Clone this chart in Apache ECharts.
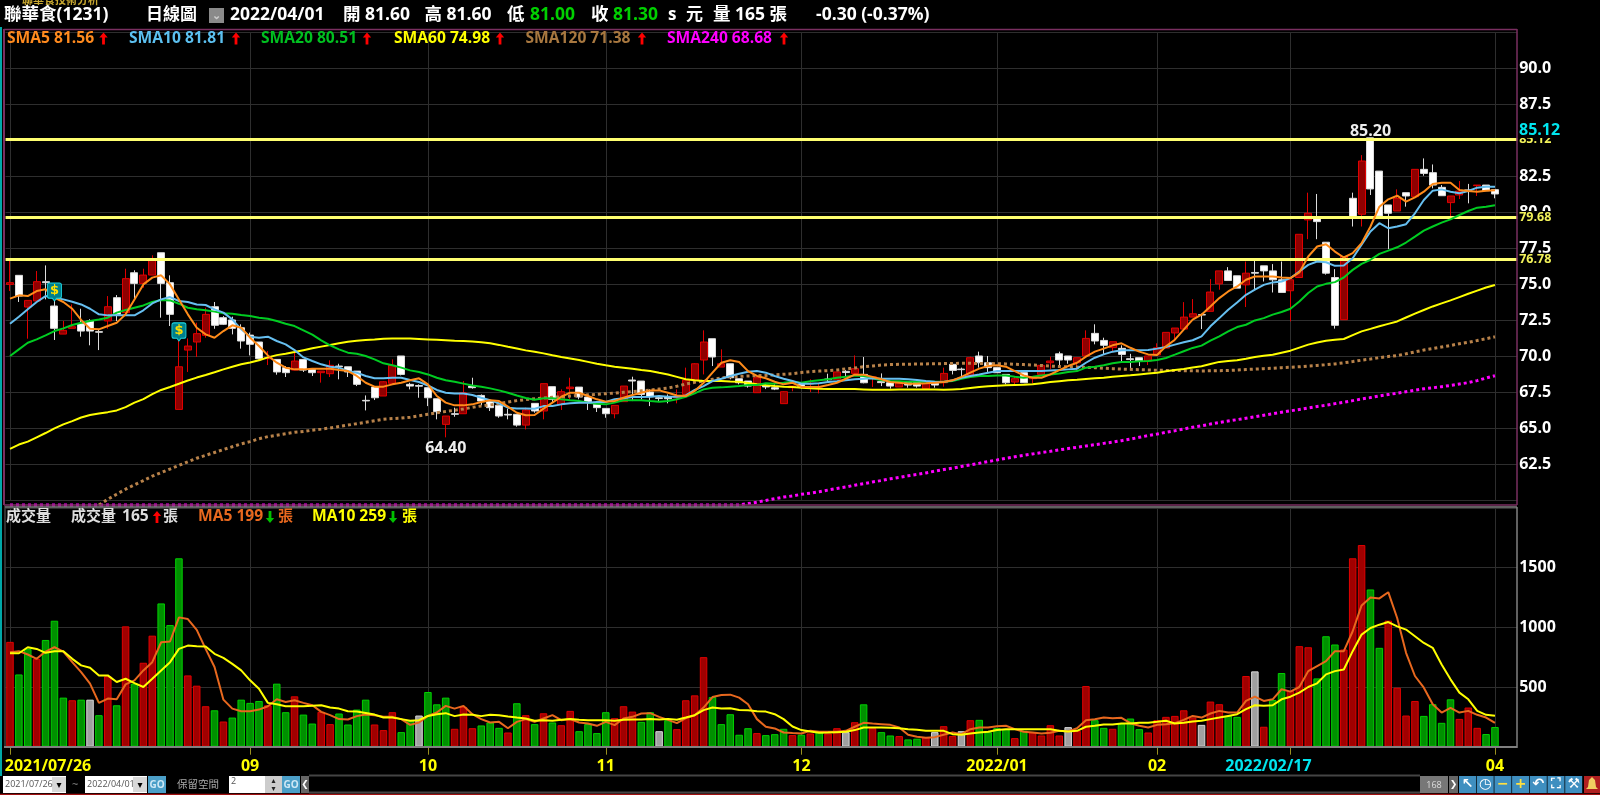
<!DOCTYPE html>
<html><head><meta charset="utf-8">
<style>html,body{margin:0;padding:0;background:#000;overflow:hidden}#c{width:1600px;height:795px}</style>
<script src="https://cdn.jsdelivr.net/npm/echarts@6/dist/echarts.min.js"></script>
</head><body><div id="c"></div>
<script>
// [open, close, low, high]
const candles = [
[75.02,75.14,74.56,76.76],[75.65,74.21,73.8,75.65],[73.45,73.91,71.25,73.91],[73.87,75.21,73.87,75.95],[75.21,75.14,73.98,76.34],
[73.52,71.97,71.16,73.87],[71.57,71.83,71.57,72.48],[71.97,72.08,71.97,73.63],[72.29,71.78,71.39,73.33],[72.48,71.78,70.79,72.6],
[71.74,71.7,70.46,71.9],[72.48,73.47,71.94,74.21],[74.1,72.94,72.48,74.28],[73.06,75.42,73.06,76.11],[75.83,75.09,74.05,76.0],
[75.09,75.67,74.79,76.11],[75.67,76.71,75.67,77.04],[77.22,75.09,72.71,77.22],[75.14,72.94,72.13,75.65],[66.34,69.3,66.34,71.09],
[70.46,70.74,68.94,71.27],[71.02,71.6,69.98,72.36],[71.48,72.94,71.32,73.4],[73.47,72.18,71.94,73.8],[72.71,72.25,72.2,72.82],
[72.55,71.97,71.55,72.78],[72.01,71.09,70.56,72.25],[71.5,70.86,70.09,71.67],[71.02,69.86,69.8,71.02],[69.86,69.93,69.42,70.4],
[69.81,68.94,68.75,69.81],[69.24,68.89,68.59,69.35],[69.07,69.7,69.07,70.4],[69.81,69.07,68.94,69.81],[69.12,68.89,68.66,69.12],
[68.89,69.0,68.2,69.0],[68.82,69.4,68.59,69.75],[69.35,69.3,68.43,69.51],[69.3,68.94,68.59,69.3],[69.0,68.08,67.96,69.0],
[66.97,66.93,66.27,67.31],[67.89,67.15,66.99,67.89],[67.27,68.26,67.27,68.3],[68.15,69.4,68.15,69.81],[70.05,68.77,68.7,70.05],
[68.08,67.96,67.73,68.19],[68.0,67.95,67.15,68.08],[67.85,67.15,66.57,67.85],[67.08,66.18,65.65,67.08],[65.3,65.88,64.4,65.88],
[66.04,66.0,65.83,66.46],[66.04,67.5,66.04,68.31],[67.96,67.85,67.78,68.54],[67.31,66.92,66.62,67.38],[66.92,66.46,66.23,66.92],
[66.62,65.88,65.76,66.62],[66.0,65.95,65.65,66.39],[66.0,65.25,65.14,66.0],[65.25,66.3,64.95,66.46],[66.76,66.23,66.11,66.76],
[66.23,68.13,65.65,68.13],[67.92,67.04,66.85,67.92],[66.69,67.57,66.3,67.73],[67.78,67.89,67.04,68.54],[67.89,67.2,67.04,67.89],
[67.2,66.88,66.3,67.2],[66.69,66.46,66.16,66.69],[66.41,66.04,65.76,66.41],[66.04,66.62,65.72,66.62],[66.88,67.96,66.88,67.96],
[68.38,68.31,66.92,68.61],[68.31,67.38,67.04,68.31],[67.55,67.22,66.57,67.73],[67.15,67.1,66.92,67.31],[67.22,67.08,66.76,67.38],
[67.15,67.2,66.76,67.73],[67.38,68.38,67.38,69.24],[68.38,69.51,68.38,69.55],[69.77,71.02,68.77,71.83],[71.25,69.98,69.35,71.25],
[69.28,69.51,69.28,70.51],[69.51,68.54,68.43,69.51],[68.47,68.19,68.08,68.47],[68.31,67.96,67.85,68.31],[67.5,68.54,67.5,68.6],
[68.0,67.9,67.75,68.1],[67.85,67.75,67.68,68.08],[66.74,67.57,66.74,67.6],[67.85,67.96,67.6,67.96],[68.08,67.95,67.8,68.1],
[68.1,68.15,67.55,68.43],[67.9,67.92,67.45,68.2],[68.45,68.4,68.2,68.82],[68.43,68.94,68.43,68.94],[68.98,68.9,68.6,69.07],
[68.84,69.17,68.77,70.09],[68.77,68.19,68.15,69.98],[68.55,68.6,67.9,68.6],[68.27,68.2,67.96,68.84],[68.19,67.96,67.78,68.19],
[67.9,68.19,67.9,68.19],[68.2,68.03,67.85,68.2],[68.2,67.96,67.85,68.2],[67.78,68.13,67.78,68.13],[68.15,68.03,67.85,68.15],
[68.19,68.84,67.92,69.24],[69.47,69.05,68.77,69.47],[69.14,69.1,68.54,69.24],[68.7,69.93,68.7,70.0],[70.05,69.58,69.24,70.35],
[69.58,69.24,68.94,70.05],[69.24,68.89,68.89,69.24],[68.77,68.19,68.08,68.77],[68.24,68.47,68.08,68.61],[68.89,68.19,68.19,68.89],
[68.47,68.55,68.15,68.55],[68.77,69.4,68.77,69.4],[69.58,69.7,69.12,70.0],[70.2,69.77,69.4,70.35],[70.05,69.77,69.51,70.05],
[69.58,69.93,69.0,69.93],[70.05,71.27,70.05,71.83],[71.62,71.09,70.86,72.25],[71.13,70.79,70.12,71.32],[70.63,71.04,70.32,71.04],
[70.58,70.16,69.7,70.79],[69.86,69.8,69.05,70.2],[69.93,69.7,69.35,69.93],[69.7,70.05,69.42,70.05],[70.12,70.62,70.12,70.93],
[70.6,71.69,70.6,71.69],[71.65,71.99,71.07,71.99],[71.92,72.75,71.92,73.79],[72.75,72.98,72.75,74.0],[72.92,72.9,71.92,72.99],
[73.15,74.49,73.15,75.39],[75.06,75.96,74.65,75.96],[75.96,75.29,75.29,76.22],[75.62,74.76,74.76,75.62],[74.99,75.8,73.45,76.61],
[75.85,75.8,74.65,76.68],[76.31,75.96,75.22,76.31],[75.96,75.34,74.46,76.43],[75.34,74.46,74.46,76.61],[74.58,75.34,72.45,75.34],
[75.5,78.5,75.5,78.5],[79.5,79.96,78.16,81.39],[79.61,79.38,78.16,81.3],[77.95,75.8,75.7,77.95],[75.5,72.18,71.95,76.08],
[72.57,76.96,72.57,76.96],[81.0,79.73,79.04,81.39],[79.89,83.59,79.04,84.0],[85.2,81.65,81.23,85.2],[82.89,79.77,79.77,82.89],
[80.54,79.96,77.47,80.54],[80.12,81.0,80.12,81.62],[81.39,81.16,80.42,81.39],[81.11,83.01,81.11,83.01],[83.01,82.73,82.57,83.77],
[82.78,81.92,81.69,83.35],[81.76,81.18,81.18,81.92],[80.7,81.16,79.73,81.16],[81.23,81.5,80.95,82.2],[81.58,81.55,80.65,82.0],
[81.88,81.92,81.16,81.92],[81.92,81.53,81.53,81.92],[81.6,81.3,81.0,81.6]];

const sma5 = [74.03,74.26,74.21,74.56,74.68,74.1,73.8,73.33,72.55,71.94,71.9,72.13,72.36,72.94,73.98,75.02,75.49,75.65,75.02,73.98,
72.94,72.01,71.55,71.32,71.78,72.18,72.01,71.32,70.74,70.09,69.58,69.24,69.12,69.12,69.17,69.17,69.17,69.07,69.0,68.66,
68.19,67.92,67.92,68.08,68.19,68.36,68.5,68.08,67.27,66.81,66.62,66.62,66.69,66.85,66.97,66.92,66.53,66.11,65.93,65.95,
66.39,66.81,67.22,67.5,67.5,67.27,67.04,66.88,66.92,67.15,67.34,67.5,67.66,67.66,67.5,67.31,67.27,67.62,68.19,68.89,
69.58,69.75,69.63,69.0,68.66,68.5,68.26,68.08,68.19,67.9,67.9,67.9,68.03,68.19,68.47,68.75,68.75,68.6,68.43,68.24,
68.19,68.13,68.13,68.15,68.19,68.24,68.36,68.6,68.89,69.17,69.35,69.4,69.31,69.0,68.7,68.54,68.54,68.77,69.07,69.35,
69.58,70.0,70.35,70.56,70.79,70.93,70.62,70.35,70.16,70.12,70.72,71.18,71.88,72.57,72.92,73.49,74.07,74.53,74.88,75.34,
75.57,75.57,75.57,75.5,75.46,75.85,76.96,77.65,77.81,77.3,76.89,77.19,77.88,79.04,80.42,80.93,81.18,80.77,81.07,81.46,
81.99,82.08,82.08,81.58,81.51,81.46,81.53,81.56];
const sma10 = [72.29,72.78,73.29,73.8,74.21,74.1,73.98,73.82,73.63,73.33,72.94,72.87,72.87,72.87,72.87,73.22,73.7,73.98,74.14,73.87,
73.8,73.63,73.59,73.29,73.06,72.59,71.9,71.39,71.32,71.39,71.09,70.86,70.46,69.95,69.7,69.47,69.3,69.24,69.0,68.89,
68.66,68.5,68.5,68.54,68.54,68.38,68.24,68.0,67.69,67.5,67.45,67.45,67.34,67.15,66.97,66.76,66.46,66.41,66.41,66.39,
66.57,66.57,66.69,66.76,66.81,66.81,66.85,66.85,67.04,67.11,67.2,67.2,67.22,67.27,67.22,67.22,67.31,67.69,67.96,68.31,
68.47,68.66,68.82,68.96,69.0,68.89,68.66,68.47,68.31,68.13,68.13,68.15,68.24,68.29,68.36,68.43,68.47,68.5,68.47,68.47,
68.47,68.43,68.38,68.31,68.26,68.24,68.36,68.54,68.66,68.77,68.89,69.0,69.0,69.0,69.0,69.0,69.0,69.05,69.07,69.12,
69.17,69.58,69.93,70.16,70.35,70.44,70.44,70.44,70.46,70.56,70.68,70.84,71.0,71.14,71.41,72.11,72.68,73.26,73.77,74.3,
74.65,74.99,75.16,75.22,75.46,75.92,76.38,76.61,76.56,76.31,76.33,76.84,77.77,78.69,79.27,78.92,79.04,79.2,79.96,80.88,
81.53,81.62,81.46,81.35,81.51,81.74,81.81,81.81];
const sma20 = [70.05,70.51,70.97,71.2,71.48,71.78,71.97,72.2,72.36,72.48,72.59,72.71,73.06,73.24,73.4,73.56,73.8,73.94,73.91,73.68,
73.4,73.29,73.22,73.13,73.01,72.99,72.89,72.82,72.71,72.64,72.48,72.29,72.13,71.83,71.53,71.13,70.79,70.51,70.28,70.21,
70.05,69.81,69.54,69.4,69.24,69.05,68.94,68.77,68.54,68.36,68.26,68.13,68.0,67.92,67.8,67.66,67.5,67.31,67.13,67.01,
67.11,67.11,67.04,66.97,66.92,66.81,66.74,66.69,66.81,66.97,66.97,66.97,66.92,66.88,66.92,67.04,67.22,67.45,67.73,67.85,
67.87,67.92,67.96,68.03,68.03,68.15,68.13,68.19,68.26,68.19,68.29,68.36,68.43,68.54,68.6,68.7,68.66,68.5,68.36,68.31,
68.29,68.26,68.26,68.26,68.26,68.26,68.31,68.47,68.59,68.66,68.66,68.7,68.7,68.6,68.54,68.6,68.7,68.77,68.84,68.94,
69.0,69.24,69.31,69.4,69.54,69.63,69.63,69.68,69.7,69.77,69.91,70.14,70.38,70.61,70.77,71.11,71.41,71.76,72.06,72.22,
72.52,72.68,72.92,73.1,73.33,73.84,74.42,74.88,75.06,75.18,75.5,76.03,76.45,76.73,77.14,77.37,77.6,77.93,78.34,78.76,
79.04,79.31,79.54,79.84,80.12,80.35,80.42,80.51];
const sma60 = [63.6,63.9,64.1,64.4,64.7,65.02,65.3,65.53,65.78,65.95,66.05,66.15,66.27,66.5,66.81,67.05,67.4,67.69,67.9,68.12,
68.35,68.55,68.73,68.92,69.12,69.3,69.47,69.6,69.75,69.95,70.11,70.2,70.32,70.45,70.58,70.7,70.81,70.93,71.04,71.1,
71.16,71.2,71.25,71.27,71.27,71.26,71.23,71.2,71.17,71.14,71.11,71.09,71.06,71.0,70.93,70.82,70.69,70.57,70.44,70.34,
70.23,70.1,69.98,69.88,69.77,69.64,69.51,69.4,69.31,69.24,69.17,69.08,69.0,68.88,68.77,68.6,68.43,68.36,68.31,68.31,
68.31,68.28,68.26,68.17,68.08,68.02,67.96,67.92,67.89,67.85,67.81,67.78,67.76,67.75,67.75,67.75,67.73,67.71,67.71,67.71,
67.72,67.73,67.73,67.73,67.72,67.71,67.73,67.75,67.82,67.89,67.94,67.99,68.01,68.03,68.05,68.08,68.16,68.24,68.3,68.36,
68.4,68.45,68.5,68.54,68.6,68.66,68.71,68.77,68.83,68.89,68.99,69.07,69.15,69.25,69.34,69.49,69.64,69.7,69.75,69.86,
69.98,70.06,70.14,70.28,70.42,70.63,70.84,70.98,71.11,71.17,71.23,71.5,71.76,71.93,72.11,72.28,72.45,72.72,72.99,73.24,
73.49,73.7,73.91,74.14,74.37,74.59,74.81,74.98];
const sma120 = [null,null,null,null,null,null,null,null,null,null,59.7,60.1,60.45,60.8,61.1,61.4,61.7,61.95,62.2,62.45,
62.7,62.95,63.15,63.35,63.55,63.75,63.95,64.1,64.3,64.45,64.55,64.65,64.75,64.8,64.9,64.97,65.05,65.15,65.25,65.35,
65.45,65.55,65.65,65.7,65.74,65.8,65.9,66.0,66.1,66.2,66.28,66.37,66.48,66.58,66.65,66.75,66.85,66.95,67.02,67.08,
67.13,67.18,67.22,67.27,67.31,67.35,67.38,67.43,67.48,67.53,67.57,67.63,67.68,67.75,67.82,67.95,68.1,68.22,68.32,68.43,
68.52,68.6,68.63,68.66,68.68,68.7,68.74,68.78,68.82,68.9,68.96,69.0,69.03,69.08,69.15,69.22,69.3,69.36,69.42,69.45,
69.47,69.48,69.49,69.5,69.51,69.52,69.53,69.54,69.54,69.53,69.53,69.51,69.5,69.47,69.45,69.42,69.39,69.35,69.32,69.3,
69.28,69.26,69.24,69.2,69.17,69.14,69.12,69.1,69.08,69.06,69.05,69.04,69.03,69.02,69.01,69.02,69.03,69.04,69.07,69.11,
69.14,69.17,69.2,69.24,69.27,69.3,69.35,69.39,69.44,69.5,69.58,69.66,69.76,69.84,69.93,70.01,70.08,70.2,70.33,70.46,
70.56,70.67,70.78,70.9,71.0,71.12,71.25,71.38];
const sma240 = [59.7,59.7,59.7,59.7,59.7,59.7,59.7,59.7,59.7,59.7,59.7,59.7,59.7,59.7,59.7,59.7,59.7,59.7,59.7,59.7,
59.7,59.7,59.7,59.7,59.7,59.7,59.7,59.7,59.7,59.7,59.7,59.7,59.7,59.7,59.7,59.7,59.7,59.7,59.7,59.7,
59.7,59.7,59.7,59.7,59.7,59.7,59.7,59.7,59.7,59.7,59.7,59.7,59.7,59.7,59.7,59.7,59.7,59.7,59.7,59.7,
59.7,59.7,59.7,59.7,59.7,59.7,59.7,59.7,59.7,59.7,59.7,59.7,59.7,59.7,59.7,59.7,59.7,59.7,59.7,59.7,
59.7,59.7,59.7,59.8,59.9,60.02,60.14,60.25,60.33,60.45,60.52,60.62,60.74,60.85,60.95,61.08,61.18,61.3,61.4,61.52,
61.62,61.73,61.82,61.93,62.05,62.16,62.26,62.38,62.49,62.6,62.72,62.83,62.95,63.05,63.15,63.25,63.34,63.43,63.53,63.62,
63.71,63.8,63.89,63.98,64.07,64.17,64.28,64.4,64.52,64.63,64.75,64.86,64.98,65.1,65.2,65.32,65.43,65.53,65.63,65.73,
65.83,65.94,66.04,66.14,66.24,66.34,66.44,66.54,66.63,66.74,66.84,66.95,67.06,67.16,67.27,67.37,67.47,67.57,67.67,67.77,
67.84,67.92,68.0,68.1,68.2,68.34,68.52,68.68];

const volume = [878,605,820,736,894,1055,411,389,394,394,264,590,347,1008,528,703,930,1200,1019,1578,
597,511,339,305,211,244,394,367,383,347,528,289,422,269,194,292,189,278,186,311,
394,186,139,289,122,222,261,458,355,411,150,333,155,178,203,158,119,364,264,189,
280,203,180,300,130,189,114,289,239,339,294,208,289,130,222,147,389,430,750,416,
189,272,100,155,114,97,105,150,97,100,111,128,111,155,122,205,355,155,122,94,
89,61,67,78,122,172,89,130,222,225,122,155,147,72,133,119,94,180,94,164,
133,508,222,158,150,194,236,147,119,222,250,258,305,245,183,378,356,258,250,592,
631,167,392,617,467,842,833,572,925,856,814,1578,1689,1317,828,1056,494,261,383,258,
356,200,397,233,328,158,106,165];
const volDir = "rggrgggrgw"+"grgrgrrggg"+"rrrgrggggr"+"ggrggrrggg"+"grrrggwggg"+"rrrgggrgrg"+"rgrrggggrr"+"rggwgrrrrg"
             + "ggggrgggrg"+"rgrrwrgrgg"+"rggrwrrwrg"+"gggrgrrrrw"+"rrggrgggrr"+"rrrrwrrggr"+"wrggrrrggg"+"rrrggrrrrg"+"gggrrrgg";
const volMa5 = [792,800,772,736,797,833,797,708,625,528,367,403,397,522,556,639,708,875,881,1083,
1069,978,819,667,394,319,297,297,311,339,397,375,389,367,347,292,264,231,228,256,
269,264,250,250,231,183,203,258,286,342,319,342,272,231,203,208,155,208,231,208,
236,264,222,231,203,194,175,208,181,236,250,278,281,250,225,197,239,264,328,416,
433,436,411,355,231,167,153,119,114,111,133,125,125,125,133,167,200,194,189,183,
161,100,83,75,80,100,119,105,147,161,161,172,175,147,125,119,111,117,133,128,
155,222,230,244,239,242,197,175,161,183,189,197,225,258,244,278,300,286,286,383,
419,383,397,481,461,500,633,675,717,800,800,967,1183,1250,1242,1294,1078,786,592,494,
356,286,325,286,300,267,244,199];
const volMa10 = [783,783,833,819,786,800,800,736,681,661,597,597,542,569,533,500,569,639,708,819,
847,842,839,778,744,694,639,556,486,367,356,339,339,339,342,347,328,319,297,294,
283,269,244,244,231,217,222,258,272,281,256,269,267,256,267,264,253,244,236,217,
222,217,225,231,225,222,222,222,217,225,228,228,233,228,233,225,244,264,306,328,
319,322,308,306,297,294,272,231,169,139,128,117,119,122,125,139,161,161,161,158,
155,147,142,133,133,133,105,100,111,119,125,139,147,147,147,147,147,147,133,128,
133,167,175,186,186,194,194,200,200,208,217,194,200,211,217,231,244,258,272,314,
347,342,347,397,419,453,500,531,606,633,647,800,939,994,1022,1044,1008,981,925,869,
828,689,564,453,397,300,267,259];

const tickIndexes = [0,27,47,67,89,111,129,144,167];
const tickLabels = ["2021/07/26","09","10","11","12","2022/01","02","2022/02/17","04"];
const levels = [85.12,79.68,76.78];
const priceExtremes = [{i:49,v:64.4,text:"64.40"},{i:153,v:85.2,text:"85.20"}];
const dollarMarks = [{i:5,v:73.87},{i:19,v:71.1}];
const alertMarks = [{i:48,c:"#8a5a30"},{i:108,c:"#b0a020"},{i:148,c:"#10a020"},{i:158,c:"#5a9ac0"},{i:163,c:"#d07020"}];
const slotCount = 170;
const categories = []; for (let i=0;i<slotCount;i++) categories.push(String(i));

const FF = "'Open Sans','Noto Sans CJK TC',sans-serif";
const g = [];
const T = (x,y,s,fill,size,extra)=>g.push({type:'text',z:100,silent:true,style:Object.assign({x,y,text:s,fill,font:`${(extra&&extra.w)||'bold'} ${size}px ${FF}`,textVerticalAlign:'middle',textAlign:'left'},extra||{})});
const R = (x,y,w,h,fill,stroke)=>g.push({type:'rect',z:90,silent:true,shape:{x,y,width:w,height:h},style:{fill:fill||'none',stroke:stroke||'none',lineWidth:1}});
const L = (x1,y1,x2,y2,c,w)=>g.push({type:'line',z:90,silent:true,shape:{x1,y1,x2,y2},style:{stroke:c,lineWidth:w||1}});
const A = (x,y,c,up)=>{const s=up?1:-1;g.push({type:'polygon',z:100,silent:true,shape:{points:[[x,y-6*s],[x+4.2,y-1*s],[x+1.4,y-1*s],[x+1.4,y+6*s],[x-1.4,y+6*s],[x-1.4,y-1*s],[x-4.2,y-1*s]]},style:{fill:c}});};

// frame
L(1,27,1,776,'#00a8a8',2); L(4,29,4,505,'#7a2f60',2);
L(4,29.5,1517,29.5,'#7a2f60',1.5); L(1517,29,1517,505,'#7a2f60',1.5); L(4,505,1517,505,'#7a2f60',1.5);
L(5,507,1517,507,'#808080',1.5); L(5,506,5,747,'#606060',1); L(1517,507,1517,748,'#808080',1.5); L(4,747,1517,747,'#808080',2);
L(0,794.5,1600,794.5,'#a01010',1.5);
// header
T(22,1,'聯華食技術分析','#c8a830',11);
T(4,15.5,'聯華食(1231)','#fff',17.5);
T(146,15.5,'日線圖','#fff',17);
R(209,8,15,15,'#8a8a8a'); T(216.5,15.5,'⌄','#ccc',11,{textAlign:'center'});
T(230,15.5,'2022/04/01','#fff',17.5);
T(343,15.5,'開 81.60','#fff',17.5); T(424.5,15.5,'高 81.60','#fff',17.5);
T(507,15.5,'低','#fff',17.5); T(530,15.5,'81.00','#00d000',17.5);
T(591,15.5,'收','#fff',17.5); T(613,15.5,'81.30','#00d000',17.5);
T(668,15.5,'s','#fff',17); T(686,15.5,'元','#fff',17); T(713,15.5,'量 165 張','#fff',17.5);
T(816,15.5,'-0.30 (-0.37%)','#fff',17.5);
// MA legend
const legend=[['SMA5 81.56','#ff8a1e',7,103.5],['SMA10 81.81','#5cc0f0',129,236],['SMA20 80.51','#00c020',261,367],['SMA60 74.98','#ffff00',394,500],['SMA120 71.38','#a87840',525.5,642],['SMA240 68.68','#ff00ff',667,784]];
legend.forEach(l=>{T(l[2],38.5,l[0],l[1],15.6); A(l[3],38.5,'#ff0000',true);});
// volume legend
T(6,517,'成交量','#ddd',15); T(71,517,'成交量','#ddd',15); T(122,517,'165','#ddd',15.6);
A(157,517,'#ff0000',true); T(163,517,'張','#ddd',15);
T(198,517,'MA5 199','#e8681e',15.6); A(270,517,'#00c000',false); T(278,517,'張','#e8681e',15);
T(312,517,'MA10 259','#ffff00',15.6); A(393,517,'#00c000',false); T(402,517,'張','#ffff00',15);
// cyan last-level label
T(1519,130,'85.12','#00e5ee',16,{backgroundColor:'#000'});
// toolbar
const small={w:'normal'};
R(3,776,63,17,'#fff'); T(5,784.5,'2021/07/26','#555',9,small); R(52,777,14,15,'#d8d8d8'); T(59,785,'▾','#000',10,{textAlign:'center',font:'10px DejaVu Sans'});
T(72,785,'~','#888',11,small);
R(85,776,62,17,'#fff'); T(87,784.5,'2022/04/01','#555',9,small); R(133,777,14,15,'#d8d8d8'); T(140,785,'▾','#000',10,{textAlign:'center',font:'10px DejaVu Sans'});
R(148,776,18,17,'#4b9fc8'); T(157,785,'GO','#cfe8f5',10,{textAlign:'center'});
T(177,785,'保留空間','#aaa',10.5,small);
R(229,776,36,17,'#fff'); T(231,781,'2','#555',9,small); R(265,776,17,17,'#ccc');
T(273.5,781,'▴','#222',8,{textAlign:'center',font:'8px DejaVu Sans'}); T(273.5,789,'▾','#222',8,{textAlign:'center',font:'8px DejaVu Sans'});
R(282,776,18,17,'#4b9fc8'); T(291,785,'GO','#cfe8f5',10,{textAlign:'center'});
R(301,776,8,17,'#666'); T(305,785,'❮','#fff',9,{textAlign:'center',font:'9px DejaVu Sans'});
L(309,775.5,1420,775.5,'#444',2); L(309,792.5,1420,792.5,'#444',2);
R(1420,776,28,17,'#777'); T(1434,785,'168','#ddd',9,{textAlign:'center',w:'normal'});
R(1449,776,9,17,'#666'); T(1453.5,785,'❯','#fff',9,{textAlign:'center',font:'9px DejaVu Sans'});
const icons=[['↖','#fff'],['◷','#fff'],['−','#ffe040'],['+','#ffe040'],['↶','#fff'],['⛶','#fff'],['⚒','#fff']];
icons.forEach((c,i)=>{const x=1459+i*17.7;R(x,776,17,17,'#3f8fc0');T(x+8.5,784.5,c[0],c[1],14,{textAlign:'center',font:'bold 14px DejaVu Sans'});});
R(1584,776,16,17,'#b02020');
g.push({type:'polygon',z:100,silent:true,shape:{points:[[1592,777],[1595,780],[1596,787],[1598,789],[1586,789],[1588,787],[1589,780]]},style:{fill:'#f0d060'}});

const grid0={left:5.55,right:82.8,top:32.7,height:468};
const grid1={left:5.55,right:82.8,top:507.9,height:238.8};
const tickFn=i=>tickIndexes.includes(+i);
const gridColor='#2e2e2e';
const lineS=(name,data,color,w,extra)=>Object.assign({name,type:'line',data,symbol:'none',showSymbol:false,clip:false,connectNulls:false,lineStyle:{color,width:w},z:5,silent:true},extra||{});

const dollarPath='path://M3 0H17Q20 0 20 3V20Q20 23 17 23H13L10 27L7 23H3Q0 23 0 20V3Q0 0 3 0Z';

const option={
  backgroundColor:'#000',animation:false,graphic:{elements:g},
  grid:[grid0,grid1],
  xAxis:[
   {type:'category',gridIndex:0,data:categories,boundaryGap:true,axisLine:{show:false},axisTick:{show:false},axisLabel:{show:false},
    splitLine:{show:true,alignWithLabel:true,interval:tickFn,lineStyle:{color:gridColor,width:1}}},
   {type:'category',gridIndex:1,data:categories,boundaryGap:true,axisLine:{show:false},
    axisTick:{show:true,alignWithLabel:true,interval:tickFn,length:8,lineStyle:{color:'#9a9020',width:1}},
    splitLine:{show:true,alignWithLabel:true,interval:tickFn,lineStyle:{color:gridColor,width:1}},
    axisLabel:{show:true,interval:tickFn,hideOverlap:false,margin:12,showMinLabel:true,showMaxLabel:true,
      formatter:(v)=>{const k=tickIndexes.indexOf(+v);if(k<0)return '';const t=tickLabels[k];
        if(k===0)return `{first|${t}}`; if(k===7)return `{cy|${t}}`; return `{y|${t}}`;},
      rich:{y:{color:'#ffff00',fontFamily:FF,fontWeight:'bold',fontSize:16},
            first:{color:'#ffff00',fontFamily:FF,fontWeight:'bold',fontSize:16,padding:[0,0,0,76]},
            cy:{color:'#00e5ee',fontFamily:FF,fontWeight:'bold',fontSize:16,padding:[0,44,0,0]}}}}
  ],
  yAxis:[
   {type:'value',gridIndex:0,position:'right',min:60,max:92.5,interval:2.5,axisLine:{show:false},axisTick:{show:false},
    splitLine:{show:true,lineStyle:{color:gridColor,width:1.2}},
    axisLabel:{color:'#fff',fontFamily:FF,fontWeight:'bold',fontSize:16,margin:2,align:'left',
      formatter:v=>(v===60||v===92.5)?'':v.toFixed(1)}},
   {type:'value',gridIndex:1,position:'right',min:0,max:2000,interval:500,axisLine:{show:false},axisTick:{show:false},
    splitLine:{show:true,lineStyle:{color:gridColor,width:1.2}},
    axisLabel:{color:'#fff',fontFamily:FF,fontWeight:'bold',fontSize:16,margin:2,align:'left',
      formatter:v=>(v===0||v===2000)?'':String(v)}}
  ],
  series:[
   {name:'K',type:'candlestick',xAxisIndex:0,yAxisIndex:0,data:candles,barWidth:7.5,z:3,silent:true,clip:false,
    itemStyle:{color:'#8f0000',color0:'#ffffff',borderColor:'#e00000',borderColor0:'#dcdcdc',borderWidth:1},
    markLine:{silent:true,symbol:'none',animation:false,z:4,
      lineStyle:{color:'#ffff70',width:3,type:'solid'},
      label:{show:true,position:'end',distance:2,color:'#f2f25a',fontFamily:FF,fontWeight:'bold',fontSize:12.5,backgroundColor:'#000',formatter:p=>p.value.toFixed(2)},
      data:levels.map(v=>({yAxis:v}))},
    markPoint:{silent:true,animation:false,data:priceExtremes.map((p,k)=>({coord:[p.i,p.v],symbol:'circle',symbolSize:1,itemStyle:{color:'transparent'},
      label:{show:true,formatter:p.text,color:'#eee',fontFamily:FF,fontWeight:'bold',fontSize:16,position:k===0?'bottom':'top',distance:k===0?3:0,offset:k===0?[0,0]:[0,2]}}))}
   },
   lineS('SMA240',sma240,'#ff00ff',3,{lineStyle:{color:'#ff00ff',width:3,type:[3,3]},
     markPoint:{silent:true,animation:false,data:alertMarks.map(a=>({coord:[a.i,59.7],symbol:'triangle',symbolSize:[7,7],symbolOffset:[0,-4],itemStyle:{color:'#000',borderColor:a.c,borderWidth:1}}))}}),
   lineS('SMA120',sma120,'#b8824a',3,{lineStyle:{color:'#b8824a',width:3,type:[3,3]}}),
   lineS('SMA60',sma60,'#ffff00',2),
   lineS('SMA20',sma20,'#00cc22',2),
   lineS('SMA10',sma10,'#66bff0',2,{z:6}),
   lineS('SMA5',sma5,'#ff8c1a',2,{z:7,
     markPoint:{silent:true,animation:false,z:12,data:dollarMarks.map(d=>({coord:[d.i,d.v],symbol:dollarPath,symbolSize:[14,18],symbolOffset:[0,'-50%'],symbolKeepAspect:false,
       itemStyle:{color:'#007f8c',borderColor:'#1cd4e0',borderWidth:1},
       label:{show:true,formatter:'$',color:'#ffe000',fontFamily:'DejaVu Sans',fontWeight:'bold',fontSize:13,position:'inside',offset:[0,-1]}}))}}),
   {name:'成交量',type:'bar',xAxisIndex:1,yAxisIndex:1,barWidth:7.5,z:3,silent:true,
    data:volume.map((v,i)=>{const d=volDir[i];return {value:v,itemStyle:{
      color:d==='r'?'#a00000':d==='g'?'#009000':'#a0a0a0',
      borderColor:d==='r'?'#e00000':d==='g'?'#00d000':'#d8d8d8',borderWidth:1}};})},
   lineS('MA5',volMa5,'#e8681e',2,{xAxisIndex:1,yAxisIndex:1}),
   lineS('MA10',volMa10,'#ffff00',2,{xAxisIndex:1,yAxisIndex:1,z:6})
  ]
};
const chart=echarts.init(document.getElementById('c'),null,{renderer:'canvas'});
chart.setOption(option);
</script></body></html>
